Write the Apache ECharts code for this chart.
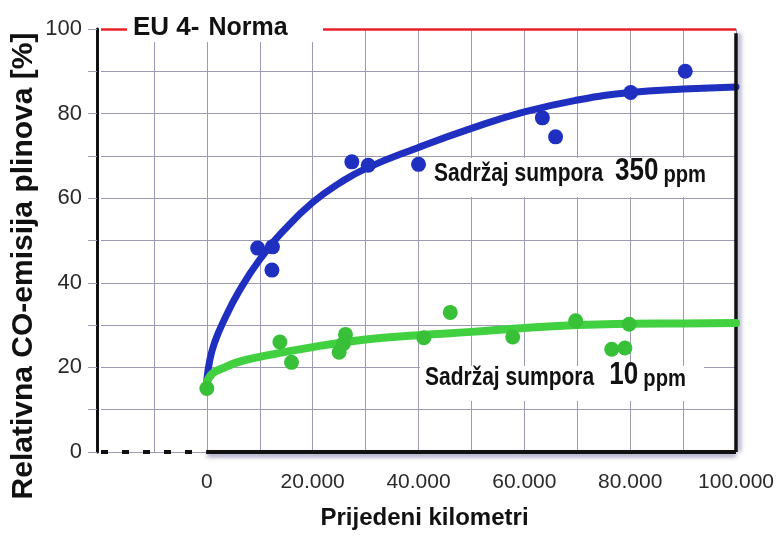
<!DOCTYPE html>
<html>
<head>
<meta charset="utf-8">
<script src="https://cdn.jsdelivr.net/npm/echarts@6/dist/echarts.min.js"></script>
<style>
html,body{margin:0;padding:0;background:#ffffff;}
#chart{width:777px;height:541px;}
</style>
</head>
<body>
<div id="chart"></div>
<script>
// ---- data ----
const xTickLabels = ['0', '20.000', '40.000', '60.000', '80.000', '100.000'];
const yTickLabels = ['0', '20', '40', '60', '80', '100'];

// 350 ppm sulphur: measured points and fitted trend
const blueDots = [[9600,48.2],[12400,48.5],[12300,43],[27400,68.6],[30500,67.8],[40000,68],[63400,79],[65900,74.5],[80100,85],[90400,90]];
const blueFit = [[0,17],[600,22],[1500,26],[3000,30.5],[6000,37.8],[10000,45.5],[15000,53],[20000,59],[25000,63.5],[30000,67],[40000,72],[50000,76.5],[60000,80.4],[70000,83.2],[80000,85],[90000,85.8],[100000,86.3]];

// 10 ppm sulphur: measured points and fitted trend
const greenDots = [[0,15],[13800,26],[16000,21.2],[25000,23.6],[25800,25.6],[26200,27.8],[41000,27],[46000,33],[57800,27.2],[69700,31],[76500,24.3],[79000,24.6],[79800,30.2]];
const greenFit = [[0,16.3],[1000,18.5],[3000,19.8],[6000,21.3],[10000,22.5],[20000,24.8],[30000,26.6],[40000,27.6],[50000,28.4],[60000,29.3],[70000,30],[80000,30.3],[90000,30.4],[100000,30.5]];

const euNorm = 100;
const xMin = -20000, xMax = 100000;

// ---- chart ----
const chart = echarts.init(document.getElementById('chart'));
const gridCol = '#9c9ab4';
const BLUE = '#1f2fbf';
const GREEN = '#40d040';
const GREEN_DOT = '#38c038';
const sans = '"Liberation Sans", Arial, sans-serif';

const xLabelSet = {};
xTickLabels.forEach((t, i) => { xLabelSet[i * 20000] = t; });
const yLabelSet = {};
yTickLabels.forEach((t, i) => { yLabelSet[i * 20] = t; });

const annoRich = (numPad) => ({
  a: { fontFamily: sans, fontWeight: 'bold', fontSize: 25, fill: '#111', verticalAlign: 'bottom' },
  b: { fontFamily: sans, fontWeight: 'bold', fontSize: 31, fill: '#111', verticalAlign: 'bottom', padding: [0, 0, 0, numPad] },
  c: { fontFamily: sans, fontWeight: 'bold', fontSize: 24, fill: '#111', verticalAlign: 'bottom', padding: [0, 0, 0, 6] }
});

chart.setOption({
  animation: false,
  backgroundColor: '#ffffff',
  grid: { left: 101, right: 40, top: 29, bottom: 89 },
  xAxis: {
    type: 'value', min: xMin, max: xMax, interval: 10000,
    axisLine: { show: false },
    axisTick: { show: false },
    splitLine: { show: true, showMinLine: false, lineStyle: { color: gridCol, width: 1 } },
    axisLabel: {
      formatter: v => (xLabelSet[v] !== undefined ? xLabelSet[v] : ''),
      fontFamily: sans, fontSize: 21, color: '#2a2a2a', margin: 20
    },
    name: 'Prijedeni kilometri',
    nameLocation: 'middle', nameGap: 54,
    nameTextStyle: { fontFamily: sans, fontWeight: 'bold', fontSize: 24, color: '#111', padding: [0, 0, 0, 12] }
  },
  yAxis: [{
    type: 'value', min: 0, max: 100, interval: 10, offset: 4,
    axisLine: { show: true, onZero: false, lineStyle: { color: '#111', width: 3 } },
    axisTick: { show: true, length: 9, lineStyle: { color: gridCol, width: 1 } },
    splitLine: { show: true, lineStyle: { color: gridCol, width: 1 } },
    axisLabel: {
      formatter: v => (yLabelSet[v] !== undefined ? yLabelSet[v] : ''),
      fontFamily: sans, fontSize: 22, color: '#2a2a2a', margin: 15
    }
  }],
  series: [
    {
      name: 'border', type: 'line', data: [], silent: true,
      markLine: {
        symbol: 'none', silent: true, label: { show: false },
        data: [
          [{ coord: [xMin, euNorm], lineStyle: { color: '#e8202c', width: 2.5, type: 'solid' } }, { coord: [xMax, euNorm] }],
          [{ coord: [xMin, 0], lineStyle: { color: '#111', width: 4, type: [7, 14] } }, { coord: [0, 0] }],
          [{ coord: [0, 0], lineStyle: { color: '#111', width: 4, type: 'solid', shadowColor: 'rgba(70,70,130,0.55)', shadowBlur: 4, shadowOffsetY: 3 } }, { coord: [xMax, 0] }],
          [{ coord: [xMax, 0], lineStyle: { color: '#111', width: 3.5, type: 'solid', shadowColor: 'rgba(70,70,130,0.55)', shadowBlur: 4, shadowOffsetX: 3 } }, { coord: [xMax, euNorm - 1] }]
        ]
      }
    },
    {
      name: '350 ppm fit', type: 'line', data: blueFit, smooth: 0.5, showSymbol: false,
      lineStyle: { color: BLUE, width: 7, cap: 'round' }, z: 3
    },
    {
      name: '350 ppm', type: 'scatter', data: blueDots, symbolSize: 15,
      itemStyle: { color: BLUE, opacity: 1 }, z: 4
    },
    {
      name: '10 ppm fit', type: 'line', data: greenFit, smooth: 0.5, showSymbol: false,
      lineStyle: { color: GREEN, width: 8, cap: 'round' }, z: 5
    },
    {
      name: '10 ppm', type: 'scatter', data: greenDots, symbolSize: 15,
      itemStyle: { color: GREEN_DOT, opacity: 1 }, z: 6
    }
  ],
  graphic: [
    {
      type: 'text', x: 24, y: 266, rotation: Math.PI / 2, z: 51,
      style: {
        text: 'Relativna CO-emisija plinova [%]', align: 'center', verticalAlign: 'middle',
        fontFamily: sans, fontWeight: 'bold', fontSize: 30, fill: '#111'
      }
    },
    { type: 'rect', shape: { x: 127, y: 14, width: 196, height: 28 }, style: { fill: '#ffffff' }, z: 50 },
    {
      type: 'text', x: 133, y: 28, z: 51,
      style: {
        text: '{a|EU 4-}{b|Norma}', verticalAlign: 'middle',
        rich: {
          a: { fontFamily: sans, fontWeight: 'bold', fontSize: 26, fill: '#111' },
          b: { fontFamily: sans, fontWeight: 'bold', fontSize: 25, fill: '#111', padding: [0, 0, 0, 9] }
        }
      }
    },
    { type: 'rect', shape: { x: 430, y: 158, width: 292, height: 39 }, style: { fill: '#ffffff' }, z: 50 },
    {
      type: 'text', x: 434, y: 187, z: 51, scaleX: 0.84,
      style: { text: '{a|Sadržaj sumpora}{b|350}{c|ppm}', verticalAlign: 'bottom', rich: annoRich(14) }
    },
    { type: 'rect', shape: { x: 420, y: 366, width: 284, height: 35 }, style: { fill: '#ffffff' }, z: 50 },
    {
      type: 'text', x: 425, y: 391, z: 51, scaleX: 0.84,
      style: { text: '{a|Sadržaj sumpora}{b|10}{c|ppm}', verticalAlign: 'bottom', rich: annoRich(18) }
    }
  ]
});
</script>
</body>
</html>
